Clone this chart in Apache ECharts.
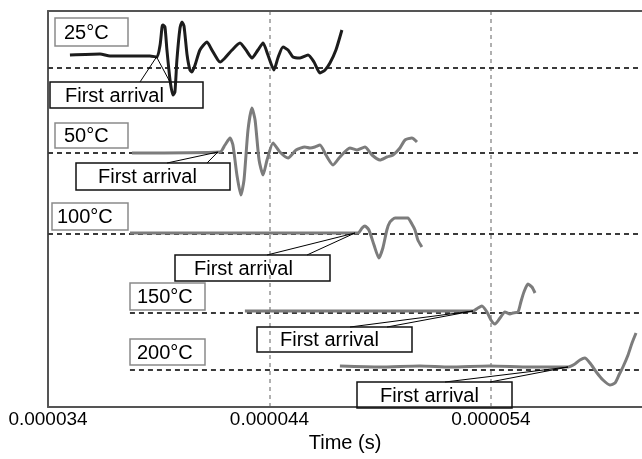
<!DOCTYPE html>
<html>
<head>
<meta charset="utf-8">
<script src="https://cdn.jsdelivr.net/npm/echarts@6/dist/echarts.min.js"></script>
<style>
  html, body { margin: 0; padding: 0; background: #fff; }
  #chart { width: 642px; height: 459px; }
</style>
</head>
<body>
<div id="chart"></div>
<script>
// Time axis runs in microseconds; tick labels are printed in seconds.
const X_MIN = 34, X_MAX = 60.82, X_STEP = 10;

const temps = ['25°C', '50°C', '100°C', '150°C', '200°C'];
// Vertical offset of each trace (arbitrary units) and where its zero line starts
const baselines = [339, 254, 173, 94, 37];
const baselineStart = [34, 34, 34, 37.7, 37.7];
// Picked first-arrival times (µs)
const arrivalTimes = [38.9, 41.67, 47.86, 53.19, 57.48];

// Received waveforms: time (µs) and amplitude (arbitrary units)
const t25 = [34.99, 36.35, 36.80, 38.60, 38.92, 39.06, 39.15, 39.19, 39.28, 39.37, 39.51, 39.64, 39.73, 39.82, 39.96, 40.05, 40.14, 40.28, 40.41, 40.50, 40.64, 40.86, 41.18, 41.40, 41.67, 41.77, 41.99, 42.31, 42.67, 42.94, 43.21, 43.48, 43.71, 43.93, 44.20, 44.38, 44.61, 44.84, 45.06, 45.38, 45.74, 46.01, 46.28, 46.51, 46.73, 47.00, 47.27];
const a25 = [13, 14, 12, 12, 11, 23, 41, 43, 41, 18, -12, -27, -24, 8, 40, 46, 42, 13, -2, -4, 3, 18, 26, 18, 8, 6, 10, 18, 25, 18, 10, 18, 25, 13, -2, 10, 21, 18, 11, 10, 13, 6, -5, -2, 5, 18, 38];

const t50 = [37.79, 41.77, 41.99, 42.22, 42.35, 42.53, 42.71, 42.85, 43.03, 43.21, 43.35, 43.53, 43.71, 43.89, 44.16, 44.47, 44.84, 45.20, 45.60, 45.83, 46.05, 46.28, 46.55, 46.87, 47.18, 47.63, 47.95, 48.31, 48.63, 48.99, 49.30, 49.58, 49.89, 50.12, 50.43, 50.66];
const a50 = [0, 1, 8, 15, 8, -22, -42, -27, 23, 45, 33, -7, -22, -7, 10, 1, -5, 3, 6, 5, 6, 8, -2, -12, -4, 5, 3, 6, -2, -7, -4, -2, 5, 13, 15, 11];

const t100 = [37.70, 48.00, 48.18, 48.31, 48.49, 48.72, 48.94, 49.12, 49.30, 49.44, 49.67, 49.98, 50.25, 50.43, 50.57, 50.70, 50.88];
const a100 = [1, 1, 6, 8, 4, -11, -24, -14, 4, 12, 16, 16, 16, 10, 4, -6, -13];

const t150 = [42.89, 53.19, 53.41, 53.59, 53.82, 54.00, 54.18, 54.41, 54.63, 54.86, 54.99, 55.22, 55.35, 55.49, 55.67, 55.85, 55.99];
const a150 = [2, 2, 5, 7, 1, -7, -11, -5, 1, -1, 0, 1, 11, 21, 29, 26, 20];

const t200 = [47.18, 48.99, 50.79, 52.15, 53.95, 55.76, 57.48, 57.79, 58.02, 58.24, 58.47, 58.79, 59.06, 59.37, 59.60, 59.78, 59.96, 60.19, 60.37, 60.55];
const a200 = [4, 3, 4, 3, 4, 3, 3, 6, 10, 12, 7, -3, -10, -15, -13, -5, 3, 15, 27, 37];

const traceTimes = [t25, t50, t100, t150, t200];
const traceAmps = [a25, a50, a100, a150, a200];
const traceColors = ['#1c1c1c', '#7c7c7c', '#7c7c7c', '#7c7c7c', '#7c7c7c'];

const FONT = '"Liberation Sans", Arial, Helvetica, sans-serif';
const FRAME = { show: true, lineStyle: { color: '#555', width: 2 } };

const chart = echarts.init(document.getElementById('chart'), null, { renderer: 'canvas' });

const series = [];
// Dashed zero line under each trace
baselines.forEach((b, i) => {
  series.push({
    type: 'line', silent: true, symbol: 'none', z: 2,
    data: [[baselineStart[i], b], [X_MAX, b]],
    lineStyle: { color: '#3a3a3a', width: 2, type: [5, 4] }
  });
});
// Waveforms
traceTimes.forEach((ts, i) => {
  series.push({
    type: 'line', name: temps[i], symbol: 'none', z: 3, smooth: 0.2,
    data: ts.map((t, k) => [t, baselines[i] + traceAmps[i][k]]),
    lineStyle: { color: traceColors[i], width: 3 }
  });
});

chart.setOption({
  animation: false,
  backgroundColor: '#fff',
  grid: { left: 48, right: 0, top: 11, bottom: 52, show: false },
  xAxis: [{
    type: 'value', position: 'bottom', min: X_MIN, max: X_MAX, interval: X_STEP,
    name: 'Time (s)', nameLocation: 'middle', nameGap: 22,
    nameTextStyle: { fontFamily: FONT, fontSize: 20, color: '#000' },
    axisLine: FRAME, axisTick: { show: false },
    axisLabel: {
      fontFamily: FONT, fontSize: 19, color: '#000', margin: 3,
      showMaxLabel: false,
      formatter: v => (v / 1e6).toFixed(6)
    },
    splitLine: {
      show: true, showMinLine: false, showMaxLine: false,
      lineStyle: { color: '#b0b0b0', width: 2, type: [4, 4] }
    }
  }, {
    // top edge of the frame
    type: 'value', position: 'top', min: X_MIN, max: X_MAX,
    axisLine: FRAME, axisTick: { show: false }, axisLabel: { show: false }, splitLine: { show: false }
  }],
  yAxis: {
    type: 'value', min: 0, max: 396,
    axisLine: FRAME, axisTick: { show: false }, axisLabel: { show: false }, splitLine: { show: false }
  },
  series
});

// Value of a trace at a given time (for placing the callout tip on the curve)
function traceValueAt(i, t) {
  const ts = traceTimes[i], as = traceAmps[i];
  for (let k = 0; k < ts.length - 1; k++) {
    if (t >= ts[k] && t <= ts[k + 1]) {
      const f = (t - ts[k]) / (ts[k + 1] - ts[k]);
      return baselines[i] + as[k] + f * (as[k + 1] - as[k]);
    }
  }
  return baselines[i];
}

// Annotation layout (pixels)
const tempBoxes = [
  { x: 55, y: 18, w: 73, h: 28, tx: 64 },
  { x: 55, y: 123, w: 73, h: 25, tx: 64 },
  { x: 52, y: 203, w: 76, h: 27, tx: 57 },
  { x: 130, y: 283, w: 75, h: 27, tx: 137 },
  { x: 130, y: 339, w: 75, h: 26, tx: 137 }
];
const calloutBoxes = [
  { x: 50, y: 82, w: 153, h: 26, tx: 65, wedge: [140, 170] },
  { x: 76, y: 163, w: 154, h: 27, tx: 98, wedge: [167, 207] },
  { x: 175, y: 255, w: 155, h: 26, tx: 194, wedge: [267, 307] },
  { x: 257, y: 327, w: 155, h: 25, tx: 280, wedge: [350, 387] },
  { x: 357, y: 382, w: 155, h: 26, tx: 380, wedge: [445, 490] }
];

const graphic = [];
temps.forEach((label, i) => {
  const b = tempBoxes[i];
  graphic.push({
    type: 'rect', z: 10, silent: true,
    shape: { x: b.x, y: b.y, width: b.w, height: b.h },
    style: { fill: 'none', stroke: '#8a8a8a', lineWidth: 1.5 }
  });
  graphic.push({
    type: 'text', z: 11, silent: true,
    style: { text: label, x: b.tx, y: b.y + b.h / 2 + 1, font: '20px ' + FONT, fill: '#000', align: 'left', verticalAlign: 'middle' }
  });

  const c = calloutBoxes[i];
  const tip = chart.convertToPixel({ gridIndex: 0 }, [arrivalTimes[i], traceValueAt(i, arrivalTimes[i])]);
  graphic.push({
    type: 'polyline', z: 10, silent: true,
    shape: { points: [[c.wedge[0], c.y], tip, [c.wedge[1], c.y]] },
    style: { fill: 'none', stroke: '#000', lineWidth: 1 }
  });
  graphic.push({
    type: 'rect', z: 10, silent: true,
    shape: { x: c.x, y: c.y, width: c.w, height: c.h },
    style: { fill: 'none', stroke: '#111', lineWidth: 1.5 }
  });
  graphic.push({
    type: 'text', z: 11, silent: true,
    style: { text: 'First arrival', x: c.tx, y: c.y + c.h / 2 + 1, font: '20px ' + FONT, fill: '#000', align: 'left', verticalAlign: 'middle' }
  });
});

chart.setOption({ graphic });
</script>
</body>
</html>
